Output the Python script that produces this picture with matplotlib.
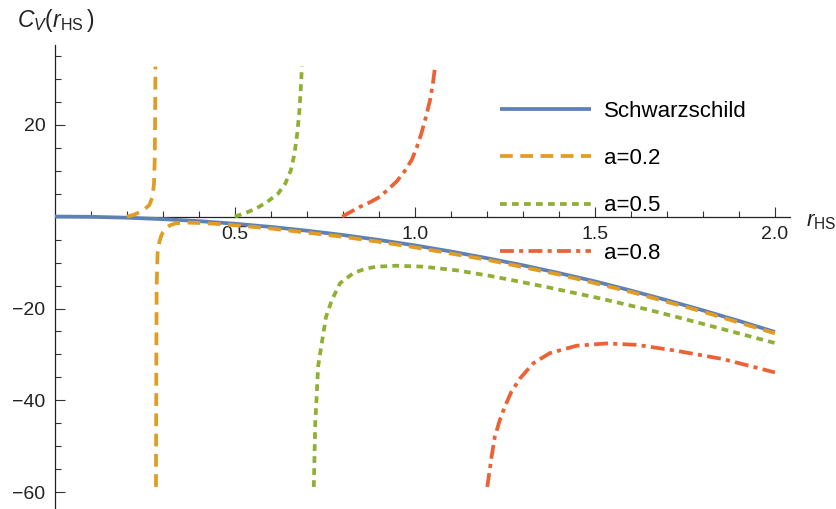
import numpy as np
import matplotlib
matplotlib.use("Agg")
import matplotlib.pyplot as plt

plt.rcParams["font.family"] = ["Liberation Sans", "DejaVu Sans"]
plt.rcParams["mathtext.fontset"] = "custom"
plt.rcParams["mathtext.rm"] = "Liberation Sans"
plt.rcParams["mathtext.it"] = "Liberation Sans:italic"

# Schwarzschild heat capacity
r_s = [0.0, 0.1, 0.2, 0.3, 0.4, 0.5, 0.6, 0.7, 0.8, 0.9, 1.0,
       1.1, 1.2, 1.3, 1.4, 1.5, 1.6, 1.7, 1.8, 1.9, 2.0]
c_s = [0.0, -0.06, -0.25, -0.57, -1.0, -1.57, -2.26, -3.08, -4.02, -5.09, -6.28,
       -7.6, -9.05, -10.6, -12.3, -14.1, -16.1, -18.2, -20.4, -22.7, -25.1]

# a = 0.2, branch below the divergence and branch above it
r_a2_up = [0.200, 0.218, 0.245, 0.262, 0.271, 0.275, 0.277, 0.278, 0.279]
c_a2_up = [0.0, 0.35, 1.3, 2.5, 4.3, 7.2, 12.3, 19.5, 32.6]
r_a2_lo = [0.2805, 0.281, 0.2815, 0.2825, 0.285, 0.29, 0.295, 0.30, 0.31, 0.32,
           0.335, 0.36, 0.40, 0.45, 0.50, 0.6, 0.7, 0.8, 0.9, 1.0,
           1.2, 1.4, 1.6, 1.8, 2.0]
c_a2_lo = [-58.8, -45.0, -30.0, -15.0, -8.0, -5.5, -4.2, -3.4, -2.4, -1.9,
           -1.5, -1.3, -1.4, -1.6, -1.9, -2.6, -3.5, -4.4, -5.5, -6.7,
           -9.4, -12.6, -16.4, -20.7, -25.4]

# a = 0.5
r_a5_up = [0.50, 0.53, 0.56, 0.59, 0.62, 0.64, 0.655, 0.665, 0.673, 0.679, 0.683, 0.686]
c_a5_up = [0.0, 0.8, 1.8, 3.2, 5.0, 7.2, 10.0, 13.5, 18.0, 23.0, 28.0, 32.6]
r_a5_lo = [0.719, 0.721, 0.723, 0.726, 0.731, 0.741, 0.753, 0.769, 0.792, 0.829,
           0.86, 0.893, 0.949, 1.023, 1.116, 1.208, 1.30, 1.37, 1.514, 1.65,
           1.764, 1.88, 2.0]
c_a5_lo = [-58.8, -52.0, -45.0, -40.5, -32.6, -27.6, -21.8, -18.2, -14.5, -12.3,
           -11.4, -10.9, -10.7, -10.9, -11.7, -12.9, -14.3, -15.4, -17.8, -20.3,
           -22.6, -25.0, -27.5]

# a = 0.8
r_a8_up = [0.798, 0.847, 0.875, 0.903, 0.949, 0.97, 0.991, 1.005, 1.018, 1.03, 1.042, 1.05, 1.056]
c_a8_up = [0.0, 2.1, 3.1, 4.3, 7.6, 9.7, 12.3, 15.0, 18.1, 21.5, 25.3, 29.0, 32.6]
r_a8_lo = [1.201, 1.213, 1.222, 1.236, 1.25, 1.268, 1.292, 1.329, 1.375, 1.449,
           1.532, 1.616, 1.727, 1.856, 2.0]
c_a8_lo = [-58.8, -52.2, -47.9, -44.2, -41.3, -38.1, -35.2, -31.9, -29.7, -28.1,
           -27.6, -27.9, -29.2, -31.0, -33.9]

labels = ["Schwarzschild", "a=0.2", "a=0.5", "a=0.8"]
colors = ["#5E81B5", "#E19C24", "#8FB032", "#EB6235"]
dashes = [None, (3.4, 2.0), (1.8, 1.4), (3.7, 1.4, 1.1, 1.4)]
lw = 2.7

fig = plt.figure(figsize=(8.37, 5.09), dpi=100)
ax = fig.add_axes([55 / 837, 0, 735 / 837, 464 / 509])
ax.set_xlim(0, 2.042)
ax.set_ylim(-63.6, 37.3)


def draw(x, y, i, label=None):
    line, = ax.plot(x, y, color=colors[i], lw=lw, label=label, zorder=3,
                    solid_capstyle="butt", dash_capstyle="butt")
    if dashes[i] is not None:
        line.set_dashes(dashes[i])
    return line


draw(r_s, c_s, 0, labels[0])
draw(r_a2_up, c_a2_up, 1)
draw(r_a2_lo, c_a2_lo, 1, labels[1])
draw(r_a5_up, c_a5_up, 2)
draw(r_a5_lo, c_a5_lo, 2, labels[2])
draw(r_a8_up, c_a8_up, 3)
draw(r_a8_lo, c_a8_lo, 3, labels[3])

# axes crossing at the origin
for side in ["top", "right"]:
    ax.spines[side].set_visible(False)
ax.spines["left"].set_position(("data", 0))
ax.spines["bottom"].set_position(("data", 0))
for side in ["left", "bottom"]:
    ax.spines[side].set_linewidth(0.9)
    ax.spines[side].set_color("#222222")
    ax.spines[side].set_zorder(2)

ax.set_xticks([0.5, 1.0, 1.5, 2.0])
ax.set_xticklabels(["0.5", "1.0", "1.5", "2.0"])
ax.set_xticks(np.arange(0.1, 2.01, 0.1), minor=True)
ax.set_yticks([-60, -40, -20, 20])
ax.set_yticks(np.arange(-60, 36, 5), minor=True)
ax.tick_params(which="both", direction="in", width=0.8, color="#333333",
               labelsize=14, labelcolor="#222222", pad=7)
ax.tick_params(which="major", length=7)
ax.tick_params(which="minor", length=4)

fig.text(17 / 837, 1 - 20 / 509, r"$C_V(r_{\mathrm{HS}}\,)$", fontsize=16.5,
         va="center", ha="left", color="#222222")
fig.text(806 / 837, 1 - 222 / 509, r"$r_{\mathrm{HS}}$", fontsize=16,
         va="center", ha="left", color="#222222")

ax.legend(loc="upper left", bbox_to_anchor=(500 / 837, 1 - 101 / 509),
          bbox_transform=fig.transFigure, frameon=False, fontsize=16,
          borderpad=0, borderaxespad=0, handlelength=4.1, handletextpad=0.6,
          labelspacing=1.18)

fig.savefig("out.png", dpi=100)
